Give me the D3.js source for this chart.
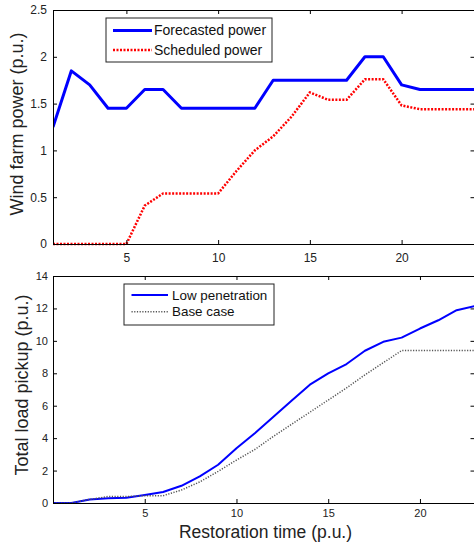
<!DOCTYPE html>
<html>
<head>
<meta charset="utf-8">
<script src="https://cdn.jsdelivr.net/npm/d3@7"></script>
<style>
  html, body { margin: 0; padding: 0; background: #fff; }
  svg { display: block; font-family: "Liberation Sans", Arial, sans-serif; }
</style>
</head>
<body>
<svg id="chart" width="474" height="547"></svg>
<script>
// Restoration hours for each panel
const hoursTop = d3.range(1, 25);
const hoursBottom = d3.range(0, 24);

// Wind farm output (p.u.)
const forecastedPower = [1.25, 1.85, 1.7, 1.45, 1.45, 1.65, 1.65, 1.45, 1.45, 1.45, 1.45, 1.45,
                         1.75, 1.75, 1.75, 1.75, 1.75, 2.0, 2.0, 1.7, 1.65, 1.65, 1.65, 1.65];
const scheduledPower = [0, 0, 0, 0, 0, 0.41, 0.54, 0.54, 0.54, 0.54, 0.78, 1.0,
                        1.15, 1.36, 1.62, 1.54, 1.54, 1.76, 1.76, 1.48, 1.44, 1.44, 1.44, 1.44];

// Cumulative load picked up (p.u.)
const lowPenetration = [0, 0, 0.22, 0.3, 0.33, 0.5, 0.68, 1.06, 1.64, 2.36, 3.38, 4.3,
                        5.3, 6.3, 7.3, 8.0, 8.57, 9.39, 9.94, 10.2, 10.76, 11.27, 11.89, 12.15];
const baseCase = [0, 0, 0.22, 0.4, 0.4, 0.45, 0.45, 0.8, 1.3, 1.95, 2.65, 3.3,
                  4.1, 4.85, 5.6, 6.35, 7.1, 7.9, 8.65, 9.4, 9.4, 9.4, 9.4, 9.4];

// Tick values
const xTicks = [5, 10, 15, 20];
const yTicksTop = [0, 0.5, 1, 1.5, 2, 2.5];
const yTicksBottom = [0, 2, 4, 6, 8, 10, 12, 14];

// Labels
const yLabelTop = "Wind farm power (p.u.)";
const yLabelBottom = "Total load pickup (p.u.)";
const xLabel = "Restoration time (p.u.)";
const legendTop = ["Forecasted power", "Scheduled power"];
const legendBottom = ["Low penetration", "Base case"];

const svg = d3.select("#chart");
const tickFmt = d3.format("~g");

function panel(cfg) {
  const x = d3.scaleLinear().domain(cfg.xDomain).range([53, 475]);
  const y = d3.scaleLinear().domain(cfg.yDomain).range([cfg.bottom, cfg.top]);
  const g = svg.append("g");

  const clipId = "clip-" + cfg.id;
  svg.append("clipPath").attr("id", clipId)
    .append("rect").attr("x", 53).attr("y", cfg.top - 2)
    .attr("width", 422).attr("height", cfg.bottom - cfg.top + 4);

  // series
  const plot = g.append("g").attr("clip-path", `url(#${clipId})`);
  cfg.series.forEach(s => {
    const line = d3.line().x((d, i) => x(cfg.xs[i])).y(d => y(d));
    plot.append("path").datum(s.values)
      .attr("fill", "none")
      .attr("stroke", s.color)
      .attr("stroke-width", s.width)
      .attr("stroke-dasharray", s.dash || null)
      .attr("stroke-linejoin", "round")
      .attr("d", line);
  });

  // axes: ticks inward on all four sides
  const tl = 4;
  const bottomAx = g.append("g").attr("transform", `translate(0,${cfg.bottom})`)
    .call(d3.axisBottom(x).tickValues(xTicks).tickFormat(tickFmt).tickSize(-tl).tickPadding(cfg.xPad).tickSizeOuter(0));
  const topAx = g.append("g").attr("transform", `translate(0,${cfg.top})`)
    .call(d3.axisTop(x).tickValues(xTicks).tickSize(-tl).tickFormat("").tickSizeOuter(0));
  const leftAx = g.append("g").attr("transform", "translate(53,0)")
    .call(d3.axisLeft(y).tickValues(cfg.yTicks).tickFormat(tickFmt).tickSize(-tl).tickPadding(cfg.yPad).tickSizeOuter(0));
  const rightAx = g.append("g").attr("transform", "translate(474.5,0)")
    .call(d3.axisRight(y).tickValues(cfg.yTicks).tickSize(-tl).tickFormat("").tickSizeOuter(0));

  [bottomAx, topAx, leftAx, rightAx].forEach(a => {
    a.select(".domain").attr("stroke", "#000").attr("stroke-width", 1);
    a.selectAll(".tick line").attr("stroke", "#000");
    a.selectAll("text").attr("fill", "#222")
      .style("font-family", '"Liberation Sans", Arial, sans-serif')
      .style("font-size", cfg.tickFont + "px");
  });

  // y label
  g.append("text")
    .attr("transform", `translate(${cfg.yLabelX},${cfg.yLabelY}) rotate(-90)`)
    .attr("text-anchor", "middle")
    .attr("fill", "#222")
    .style("font-size", "18px")
    .text(cfg.yLabel);

  // legend
  const L = cfg.legend;
  const lg = g.append("g");
  lg.append("rect").attr("x", L.x).attr("y", L.y).attr("width", L.w).attr("height", L.h)
    .attr("fill", "#fff").attr("stroke", "#222").attr("stroke-width", 1);
  cfg.series.forEach((s, i) => {
    const yy = L.y + L.row0 + i * L.rowStep;
    lg.append("line")
      .attr("x1", L.x + L.sx1).attr("x2", L.x + L.sx2)
      .attr("y1", yy).attr("y2", yy)
      .attr("stroke", s.color).attr("stroke-width", s.width)
      .attr("stroke-dasharray", s.dash || null);
    lg.append("text")
      .attr("x", L.x + L.tx).attr("y", yy)
      .attr("dy", "0.35em")
      .attr("fill", "#111")
      .style("font-size", L.font + "px")
      .text(cfg.legendLabels[i]);
  });
}

panel({
  id: "top",
  xs: hoursTop, xDomain: [1, 24], yDomain: [0, 2.5],
  top: 10, bottom: 244,
  yTicks: yTicksTop, xPad: 9, yPad: 6, tickFont: 12,
  yLabel: yLabelTop, yLabelX: 23, yLabelY: 124,
  series: [
    { values: forecastedPower, color: "#0000ff", width: 3 },
    { values: scheduledPower, color: "#ff0000", width: 2.5, dash: "2,1.5" }
  ],
  legendLabels: legendTop,
  legend: { x: 106, y: 18, w: 166, h: 44, row0: 12.5, rowStep: 19.5, sx1: 7, sx2: 46, tx: 48, font: 14 }
});

panel({
  id: "bottom",
  xs: hoursBottom, xDomain: [0, 23], yDomain: [0, 14],
  top: 276, bottom: 503,
  yTicks: yTicksBottom, xPad: 6, yPad: 5, tickFont: 11,
  yLabel: yLabelBottom, yLabelX: 27.5, yLabelY: 385,
  series: [
    { values: lowPenetration, color: "#0000ff", width: 2 },
    { values: baseCase, color: "#555555", width: 1.5, dash: "1.2,1.5" }
  ],
  legendLabels: legendBottom,
  legend: { x: 124, y: 284, w: 150, h: 41, row0: 11, rowStep: 16.7, sx1: 7.5, sx2: 44, tx: 48, font: 13.4 }
});

// shared x label
svg.append("text")
  .attr("x", 265.5).attr("y", 538)
  .attr("text-anchor", "middle")
  .attr("fill", "#222")
  .style("font-size", "17.5px")
  .text(xLabel);
</script>
</body>
</html>
